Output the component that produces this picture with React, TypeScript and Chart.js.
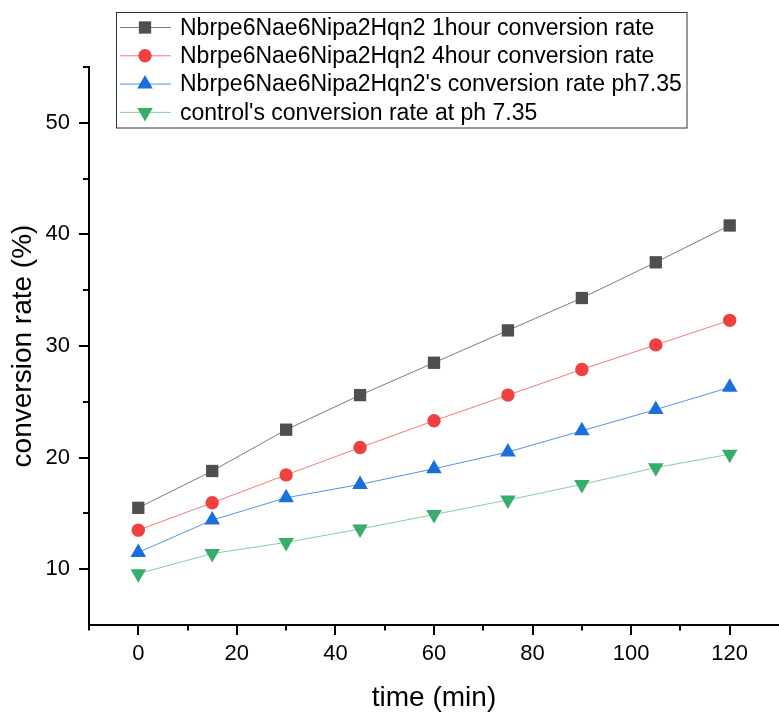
import React, { useEffect, useRef } from "react";
import { Chart, registerables } from "chart.js";
import { drawPoint } from "chart.js/helpers";

Chart.register(...registerables);

const times = [0, 15, 30, 45, 60, 75, 90, 105, 120];
const oneHour = [15.5, 18.8, 22.5, 25.6, 28.5, 31.4, 34.3, 37.5, 40.8];
const fourHour = [13.5, 15.95, 18.45, 20.9, 23.3, 25.6, 27.9, 30.1, 32.3];
const ph735 = [11.5, 14.4, 16.4, 17.6, 19.0, 20.5, 22.4, 24.3, 26.3];
const control = [9.6, 11.4, 12.4, 13.6, 14.9, 16.2, 17.6, 19.1, 20.3];

const seriesLabels = [
  "Nbrpe6Nae6Nipa2Hqn2 1hour conversion rate",
  "Nbrpe6Nae6Nipa2Hqn2 4hour conversion rate",
  "Nbrpe6Nae6Nipa2Hqn2's conversion rate ph7.35",
  "control's conversion rate at ph 7.35",
];
const xTickValues = [0, 20, 40, 60, 80, 100, 120];
const xMinorValues = [-10, 10, 30, 50, 70, 90, 110];
const yTickValues = [10, 20, 30, 40, 50];
const yMinorValues = [15, 25, 35, 45, 55];

const colors = ["#4f4f4f", "#F14040", "#1A6FDF", "#37AD6B"];
const lineColors = ["rgba(80,80,80,0.75)", "rgba(241,64,64,0.7)", "rgba(26,111,223,0.75)", "rgba(55,173,107,0.6)"];
const styles = [
  { pointStyle: "rect", radius: 8.7, rotation: 0 },
  { pointStyle: "circle", radius: 6.7, rotation: 0 },
  { pointStyle: "triangle", radius: 9, rotation: 0 },
  { pointStyle: "triangle", radius: 9, rotation: 180 },
];

const FONT = "'Liberation Sans', Arial, sans-serif";

const tickPlugin = {
  id: "customTicks",
  afterDraw(chart: any) {
    const ctx = chart.ctx;
    const xs = chart.scales.x;
    const ys = chart.scales.y;
    const area = chart.chartArea;
    ctx.save();
    ctx.strokeStyle = "#000";
    ctx.lineWidth = 2;
    ctx.beginPath();
    xTickValues.forEach((v) => {
      const p = Math.round(xs.getPixelForValue(v));
      ctx.moveTo(p, area.bottom);
      ctx.lineTo(p, area.bottom + 10);
    });
    xMinorValues.forEach((v) => {
      const p = Math.round(xs.getPixelForValue(v));
      ctx.moveTo(p, area.bottom);
      ctx.lineTo(p, area.bottom + 5.5);
    });
    yTickValues.forEach((v) => {
      const p = Math.round(ys.getPixelForValue(v));
      ctx.moveTo(area.left, p);
      ctx.lineTo(area.left - 10, p);
    });
    yMinorValues.forEach((v) => {
      const p = Math.round(ys.getPixelForValue(v));
      ctx.moveTo(area.left, p);
      ctx.lineTo(area.left - 6, p);
    });
    ctx.stroke();
    ctx.restore();
  },
};

const legendPlugin = {
  id: "customLegend",
  afterDraw(chart: any) {
    const ctx = chart.ctx;
    ctx.save();
    ctx.fillStyle = "#fff";
    ctx.fillRect(116.5, 12.5, 570.5, 115.5);
    ctx.strokeStyle = "#333";
    ctx.lineWidth = 1;
    ctx.strokeRect(116.5, 12.5, 570.5, 115.5);
    chart.data.datasets.forEach((ds: any, i: number) => {
      const y = 27.5 + i * 28.3;
      ctx.strokeStyle = lineColors[i];
      ctx.lineWidth = 1;
      ctx.beginPath();
      ctx.moveTo(120, y);
      ctx.lineTo(171, y);
      ctx.stroke();
      ctx.fillStyle = colors[i];
      drawPoint(ctx, { pointStyle: styles[i].pointStyle, radius: styles[i].radius, rotation: styles[i].rotation, borderWidth: 0 } as any, 145, y);
      ctx.fillStyle = "#000";
      ctx.font = `23px ${FONT}`;
      ctx.textBaseline = "middle";
      ctx.textAlign = "left";
      ctx.fillText(ds.label, 180, y + 1);
    });
    ctx.restore();
  },
};

export default function App() {
  const ref = useRef<HTMLCanvasElement>(null);
  useEffect(() => {
    if (!ref.current) return;
    const all = [oneHour, fourHour, ph735, control];
    const chart = new Chart(ref.current, {
      type: "line",
      data: {
        datasets: all.map((vals, i) => ({
          label: seriesLabels[i],
          data: times.map((t, j) => ({ x: t, y: vals[j] })),
          borderColor: lineColors[i],
          borderWidth: 1,
          backgroundColor: colors[i],
          pointBackgroundColor: colors[i],
          pointBorderColor: colors[i],
          pointBorderWidth: 0,
          pointStyle: styles[i].pointStyle as any,
          pointRadius: styles[i].radius,
          pointRotation: styles[i].rotation,
          pointHoverRadius: styles[i].radius,
          tension: 0,
          fill: false,
          clip: false as any,
        })),
      },
      options: {
        animation: false,
        responsive: false,
        devicePixelRatio: 1,
        layout: { autoPadding: false, padding: { top: 67, left: 0, right: 0, bottom: 0 } },
        plugins: { legend: { display: false }, tooltip: { enabled: false } },
        scales: {
          x: {
            type: "linear",
            min: -10,
            max: 130,
            afterBuildTicks: (scale: any) => {
              scale.ticks = xTickValues.map((v) => ({ value: v }));
            },
            afterFit: (scale: any) => {
              scale.height = 90;
              scale.paddingLeft = 0;
              scale.paddingRight = 0;
            },
            grid: { display: false, drawTicks: true, tickLength: 10 },
            border: { display: true, color: "#000", width: 2 },
            ticks: {
              padding: 6,
              color: "#000",
              font: { family: FONT, size: 22 },
              maxRotation: 0,
              autoSkip: false,
            },
            title: {
              display: true,
              text: "time (min)",
              color: "#000",
              font: { family: FONT, size: 28 },
              padding: { top: 0, bottom: 0 },
            },
          },
          y: {
            type: "linear",
            min: 5,
            max: 55,
            afterBuildTicks: (scale: any) => {
              scale.ticks = yTickValues.map((v) => ({ value: v }));
            },
            afterFit: (scale: any) => {
              scale.width = 89;
              scale.paddingTop = 0;
              scale.paddingBottom = 0;
            },
            grid: { display: false, drawTicks: true, tickLength: 10 },
            border: { display: true, color: "#000", width: 2 },
            ticks: {
              padding: 9,
              color: "#000",
              font: { family: FONT, size: 22 },
              autoSkip: false,
            },
            title: {
              display: true,
              text: "conversion rate (%)",
              color: "#000",
              font: { family: FONT, size: 28 },
              padding: { top: 6, bottom: 0 },
            },
          },
        },
      },
      plugins: [tickPlugin, legendPlugin],
    });
    return () => chart.destroy();
  }, []);
  return (
    <div style={{ position: "absolute", left: 0, top: 0, width: 779, height: 715, background: "#fff" }}>
      <canvas ref={ref} width={779} height={715} />
    </div>
  );
}
